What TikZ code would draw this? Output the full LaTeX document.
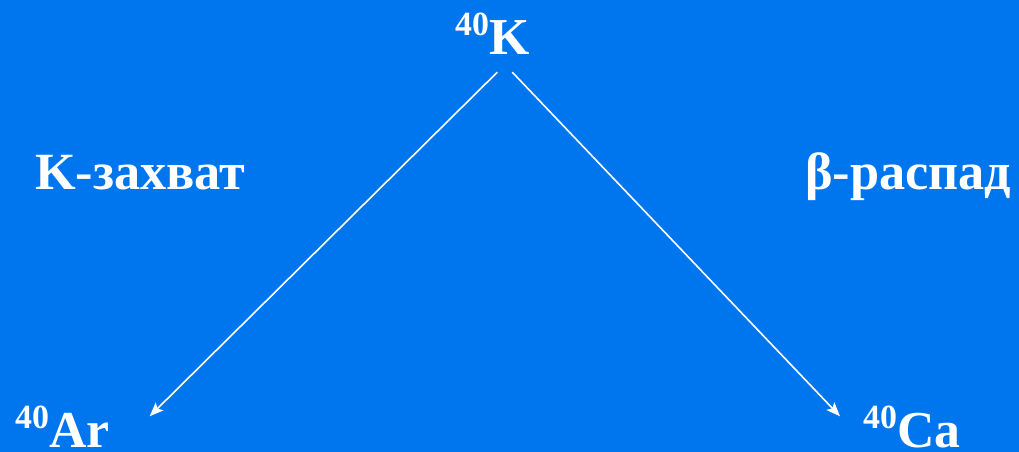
\documentclass[tikz,border=0pt]{standalone}
\usepackage{fontspec}
\setmainfont{Liberation Serif}
\usetikzlibrary{positioning,arrows.meta}
\definecolor{slideblue}{RGB}{0,118,238}
% mass number in front of the element symbol
\newcommand{\nucl}[2]{\raisebox{19bp}{\fontsize{34}{40}\selectfont #1}#2}

\begin{document}
\begin{tikzpicture}[x=1bp, y=-1bp,
  iso/.style={text=white, font=\fontsize{52}{60}\selectfont\bfseries, inner sep=0pt, anchor=base west},
  proc/.style={text=white, font=\fontsize{52.5}{60}\selectfont\bfseries, inner sep=0pt, anchor=base west},
  decay/.style={-{Stealth[length=14pt, width=11pt, inset=3pt]}, white, line width=1.6pt}]
  \fill[slideblue] (0,0) rectangle (1019,452);
  \useasboundingbox (0,0) rectangle (1019,452);

  \node[iso] (k40)  at (455,55)  {\nucl{40}{K}};
  \node[iso] (ar40) at (15,447)  {\nucl{40}{Ar}};
  \node[iso] (ca40) at (863,447) {\nucl{40}{Ca}};

  \node[proc] (kcap) at (35,190)  {K-захват};
  \node[proc] (beta) at (805,190) {β-распад};

  \draw[decay] ([xshift=5bp, yshift=-17bp]k40.south) -- ([xshift=40bp, yshift=-11bp]ar40.north east);
  \draw[decay] ([xshift=20bp, yshift=-17bp]k40.south) -- ([xshift=-23bp, yshift=-11bp]ca40.north west);
\end{tikzpicture}
\end{document}
